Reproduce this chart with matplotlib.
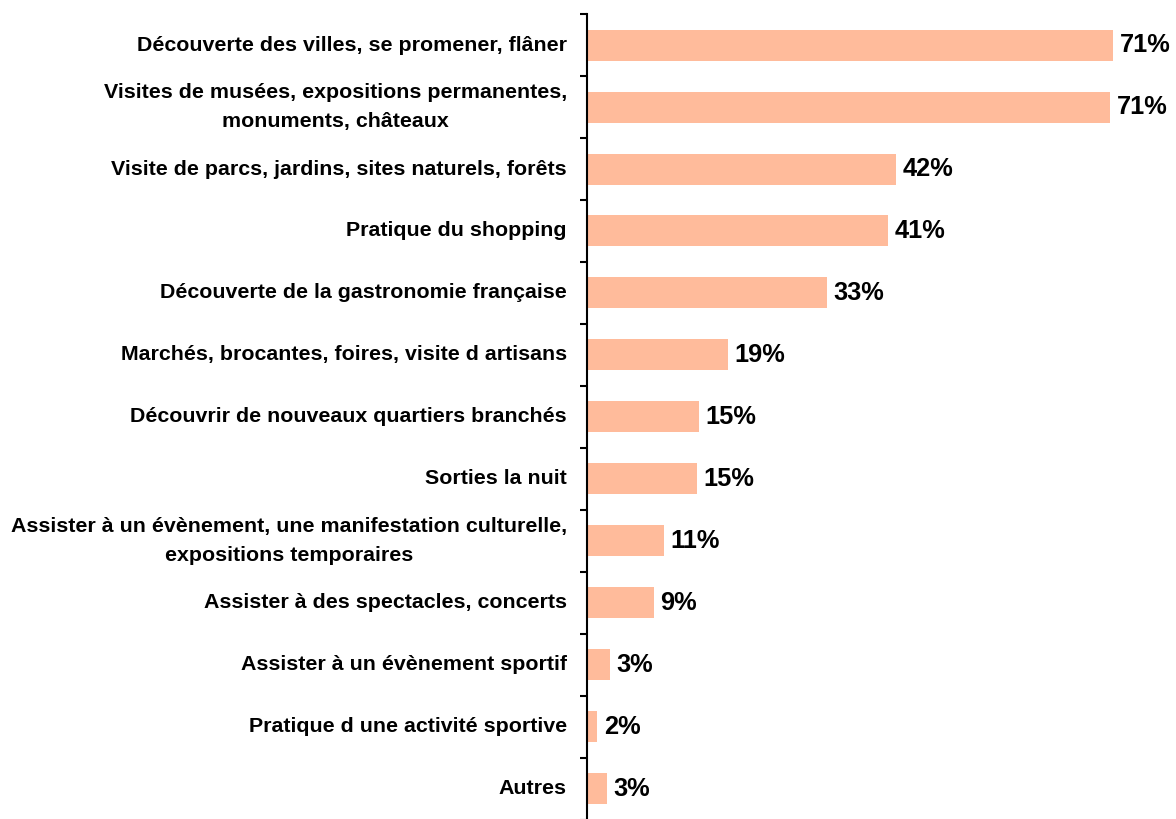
import numpy as np
import matplotlib.pyplot as plt

plt.rcParams['font.family'] = ['Liberation Sans', 'DejaVu Sans']

categories = [
    "Découverte des villes, se promener, flâner",
    "Visites de musées, expositions permanentes,\nmonuments, châteaux",
    "Visite de parcs, jardins, sites naturels, forêts",
    "Pratique du shopping",
    "Découverte de la gastronomie française",
    "Marchés, brocantes, foires, visite d artisans",
    "Découvrir de nouveaux quartiers branchés",
    "Sorties la nuit",
    "Assister à un évènement, une manifestation culturelle,\nexpositions temporaires",
    "Assister à des spectacles, concerts",
    "Assister à un évènement sportif",
    "Pratique d une activité sportive",
    "Autres",
]
values = [71.0, 70.6, 41.7, 40.6, 32.4, 19.0, 15.1, 14.8, 10.4, 9.0, 3.1, 1.4, 2.7]
labels = ["71%", "71%", "42%", "41%", "33%", "19%", "15%", "15%", "11%", "9%", "3%", "2%", "3%"]

fig = plt.figure(figsize=(11.76, 8.19), dpi=100)
ax = fig.add_axes([0.4991, -0.0012, 0.5009, 0.9841])

y = np.arange(len(categories))
ax.barh(y, values, height=0.5, color='#FFBB9B')

for yi, v, lab in zip(y, values, labels):
    ax.text(v + 0.9, yi, lab, va='center', ha='left', fontsize=18.3, fontweight='bold')

ax.set_xlim(0, 79.5)
ax.set_ylim(len(categories) - 0.5, -0.5)

# ticks at category boundaries, labels at centers
ax.set_yticks(np.arange(-0.5, len(categories)), labels=[])
ax.set_yticks(y, labels=categories, minor=True, fontweight='bold',
              multialignment='center', linespacing=1.7, va='center')
ax.tick_params(axis='y', which='major', length=5, width=1.5, direction='out')
ax.tick_params(axis='y', which='minor', length=0, pad=14.5, labelsize=15.4)

ax.set_xticks([])
for s in ['top', 'right', 'bottom']:
    ax.spines[s].set_visible(False)
ax.spines['left'].set_linewidth(1.5)

fig.savefig('out.png', dpi=100)
